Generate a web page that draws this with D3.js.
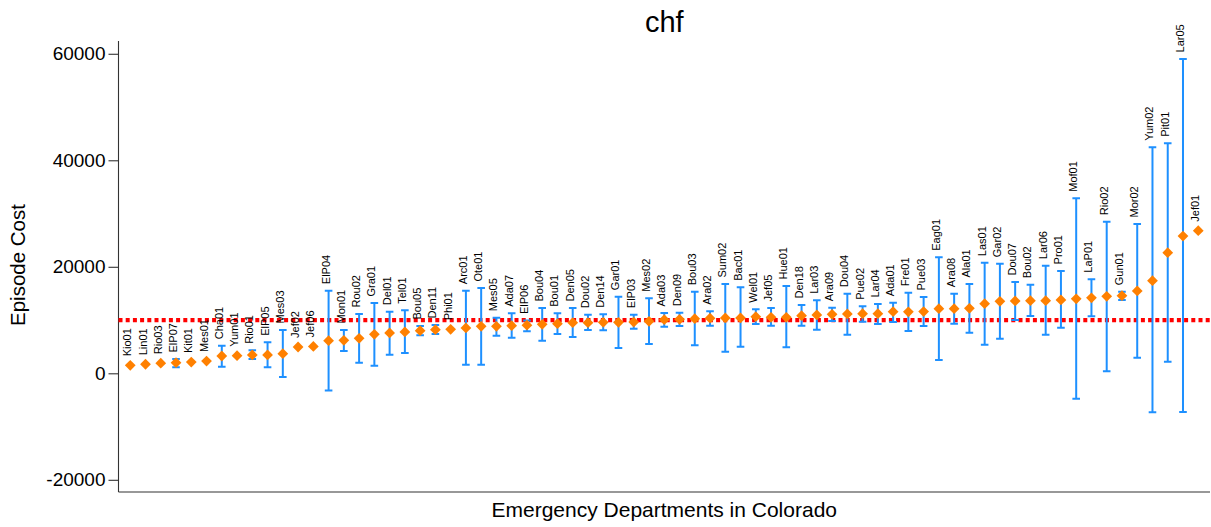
<!DOCTYPE html>
<html>
<head>
<meta charset="utf-8">
<script src="https://cdn.jsdelivr.net/npm/d3@7/dist/d3.min.js"></script>
<style>
  html, body { margin: 0; padding: 0; background: #fff; }
  svg { display: block; font-family: "Liberation Sans", Arial, Helvetica, sans-serif; }
</style>
</head>
<body>
<svg id="chart" width="1211" height="527"></svg>
<script>
// Emergency departments, ordered by mean episode cost
const departments = ["Kio01","Lin01","Rio03","ElP07","Kit01","Mes01","Cha01","Yum01","Rio01","ElP05",
  "Mes03","Jef02","Jef06","ElP04","Mon01","Rou02","Gra01","Del01","Tel01","Bou05",
  "Den11","Phi01","Arc01","Ote01","Mes05","Ada07","ElP06","Bou04","Bou01","Den05",
  "Dou02","Den14","Gar01","ElP03","Mes02","Ada03","Den09","Bou03","Ara02","Sum02",
  "Bac01","Wel01","Jef05","Hue01","Den18","Lar03","Ara09","Dou04","Pue02","Lar04",
  "Ada01","Fre01","Pue03","Eag01","Ara08","Ala01","Las01","Gar02","Dou07","Bou02",
  "Lar06","Pro01","Mof01","LaP01","Rio02","Gun01","Mor02","Yum02","Pit01","Lar05","Jef01"];

// Mean episode cost per department
const meanCost = [1500,1700,1900,2000,2100,2300,3250,3300,3440,3440,
  3680,4940,5050,6120,6200,6570,7320,7570,7760,8000,
  8190,8260,8510,8830,8830,8940,9040,9200,9320,9500,
  9500,9580,9580,9630,9770,10070,10140,10250,10360,10400,
  10390,10630,10520,10520,10820,10950,11080,11140,11190,11190,
  11570,11540,11600,12130,12130,12200,13070,13520,13580,13630,
  13630,13770,13980,14170,14460,14570,15460,17390,22650,25780,26780];

// Interval bounds (null where no interval is drawn)
const lowerCost = [null,null,null,1130,null,null,1240,null,2690,1130,
  -690,null,null,-3230,4190,1990,1430,3490,3810,7140,
  7380,null,1620,1620,7060,6690,7880,6120,7380,6820,
  8130,8070,4750,8380,5500,8750,8880,5260,8940,4060,
  5000,9260,8940,4880,8940,8190,9820,7250,9690,9260,
  9630,7940,8880,2500,9320,7620,5370,6500,10010,10760,
  7250,8570,-4800,10730,370,13770,2930,-7320,2180,-7270,null];

const upperCost = [null,null,null,2690,null,null,5180,null,4320,5820,
  8130,null,null,15510,8130,11140,13200,11570,11830,8880,
  9070,null,15510,16020,10440,11270,9900,12260,11270,12260,
  11010,11080,14390,11010,14090,11320,11380,15320,11640,16770,
  16150,12020,12260,16400,12830,13710,12320,14950,12580,13010,
  13260,15140,14330,21780,14950,16770,20770,20580,17150,16640,
  20210,19220,32870,17680,28470,15320,28040,42440,43190,59030,null];

// Overall reference level
const referenceCost = 10000;

const yTicks = [-20000, 0, 20000, 40000, 60000];
const chartTitle = "chf";
const xTitle = "Emergency Departments in Colorado";
const yTitle = "Episode Cost";

const rows = departments.map((name, i) => ({
  name, mean: meanCost[i], lower: lowerCost[i], upper: upperCost[i]
}));

const svg = d3.select("#chart");
const plot = { left: 118.5, right: 1210, top: 41, bottom: 492 };

const x = d3.scalePoint()
  .domain(departments)
  .range([plot.left, plot.right])
  .padding(0.77);

const y = d3.scaleLinear()
  .domain([-22290, 62400])
  .range([plot.bottom, plot.top]);

// Axes
const yAxis = d3.axisLeft(y).tickValues(yTicks).tickFormat(d => String(d)).tickSize(10).tickPadding(3);
const gy = svg.append("g").attr("transform", `translate(${plot.left},0)`).call(yAxis);
gy.select(".domain").attr("stroke", "#333").attr("stroke-width", 1.1)
  .attr("d", `M0,${plot.top}V${plot.bottom}`);
gy.selectAll(".tick line").attr("stroke", "#333").attr("stroke-width", 1.1);
gy.selectAll(".tick text").attr("fill", "#000").style("font-size", "19px");

svg.append("line")
  .attr("x1", plot.left).attr("x2", plot.right)
  .attr("y1", plot.bottom).attr("y2", plot.bottom)
  .attr("stroke", "#333").attr("stroke-width", 1.1);

// Reference line
svg.append("line")
  .attr("x1", plot.left).attr("x2", plot.right)
  .attr("y1", y(referenceCost)).attr("y2", y(referenceCost))
  .attr("stroke", "#ff0000").attr("stroke-width", 4.2)
  .attr("stroke-dasharray", "4,3.2");

// Interval bars with caps
const withBars = rows.filter(d => d.lower !== null && d.upper !== null);
const capHalf = 3.8;
const bars = svg.append("g").attr("stroke", "#1e90ff").attr("stroke-width", 2).attr("fill", "none");
bars.selectAll("path").data(withBars).join("path")
  .attr("d", d => {
    const cx = x(d.name), y0 = y(d.lower), y1 = y(d.upper);
    return `M${cx},${y1}V${y0}M${cx - capHalf},${y1}H${cx + capHalf}M${cx - capHalf},${y0}H${cx + capHalf}`;
  });

// Diamond markers
const diamondType = {
  draw(ctx, size) {
    const r = Math.sqrt(size / 2);
    ctx.moveTo(0, -r); ctx.lineTo(r, 0); ctx.lineTo(0, r); ctx.lineTo(-r, 0); ctx.closePath();
  }
};
svg.append("g").selectAll("path").data(rows).join("path")
  .attr("transform", d => `translate(${x(d.name)},${y(d.mean)})`)
  .attr("d", d3.symbol().type(diamondType).size(58))
  .attr("fill", "#ff8000");

// Department labels above each interval (or marker)
svg.append("g").selectAll("text").data(rows).join("text")
  .attr("transform", d => {
    const top = d.upper !== null ? y(d.upper) - 6.5 : y(d.mean) - 9;
    return `translate(${x(d.name) + 1},${top}) rotate(-90)`;
  })
  .attr("text-anchor", "start")
  .style("font-size", "11px")
  .attr("fill", "#000")
  .text(d => d.name);

// Titles
svg.append("text")
  .attr("x", (plot.left + plot.right) / 2).attr("y", 31.5)
  .attr("text-anchor", "middle").style("font-size", "29px").attr("fill", "#000")
  .text(chartTitle);

svg.append("text")
  .attr("x", (plot.left + plot.right) / 2).attr("y", 516.5)
  .attr("text-anchor", "middle").style("font-size", "21px").attr("fill", "#000")
  .text(xTitle);

svg.append("text")
  .attr("transform", `translate(25,265) rotate(-90)`)
  .attr("text-anchor", "middle").style("font-size", "20.5px").attr("fill", "#000")
  .text(yTitle);
</script>
</body>
</html>
